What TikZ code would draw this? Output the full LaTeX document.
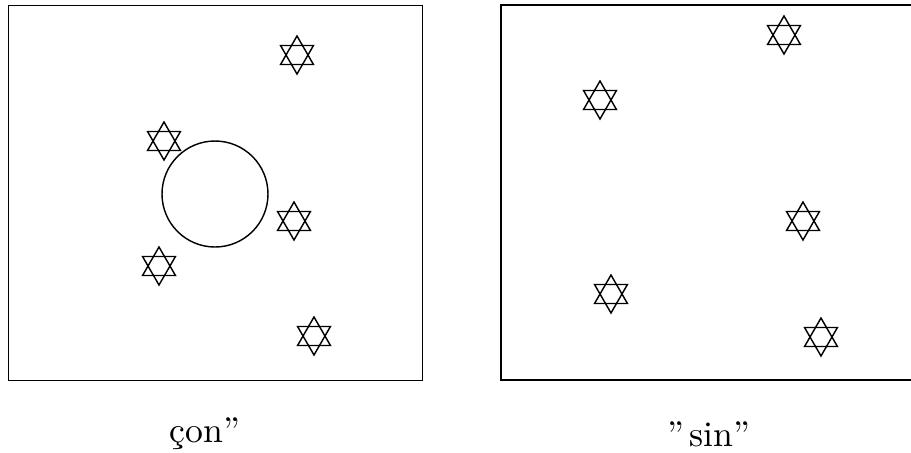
\documentclass[tikz,border=0pt]{standalone}
\begin{document}
\begin{tikzpicture}[x=0.28pt,y=-0.28pt,
  frame/.style={draw,line width=0.4pt},
  lbl/.style={inner sep=0pt,font=\normalsize}]
\useasboundingbox (0,0) rectangle (911,452);
\def\starr{19}
% frames
\node[frame,minimum width=414*0.28pt,minimum height=375*0.28pt,anchor=north west,inner sep=0pt] (L) at (8,5) {};
\coordinate (Rtr) at (911,5);
\coordinate (Rtl) at (501,5);
\coordinate (Rbl) at (501,380);
\coordinate (Rbr) at (911,380);
\draw[line width=0.4pt] (Rtr) -- (Rtl) -- (Rbl) -- (Rbr);
% circle
\node[draw,circle,minimum size=106*0.28pt,inner sep=0pt,line width=0.4pt] (C) at (215,194) {};
% stars
\foreach \sx/\sy in {297/55,164/141,294/221,159/266,314/336,784/35,600/100,803/221,611/294,821/337}{
  \draw[line width=0.4pt] (\sx,\sy) ++(0,-\starr) -- ++({\starr*0.8660254},{\starr*1.5}) -- ++({-\starr*1.7320508},0) -- cycle;
  \draw[line width=0.4pt] (\sx,\sy) ++(0,\starr) -- ++({\starr*0.8660254},{-\starr*1.5}) -- ++({-\starr*1.7320508},0) -- cycle;
}
% labels
\node[lbl] (t1) at (205,434) {ç{}on\textquotedblright};
\node[lbl] (t2) at (709,434) {\textquotedblright\kern1.5pt sin\textquotedblright};
\end{tikzpicture}
\end{document}
